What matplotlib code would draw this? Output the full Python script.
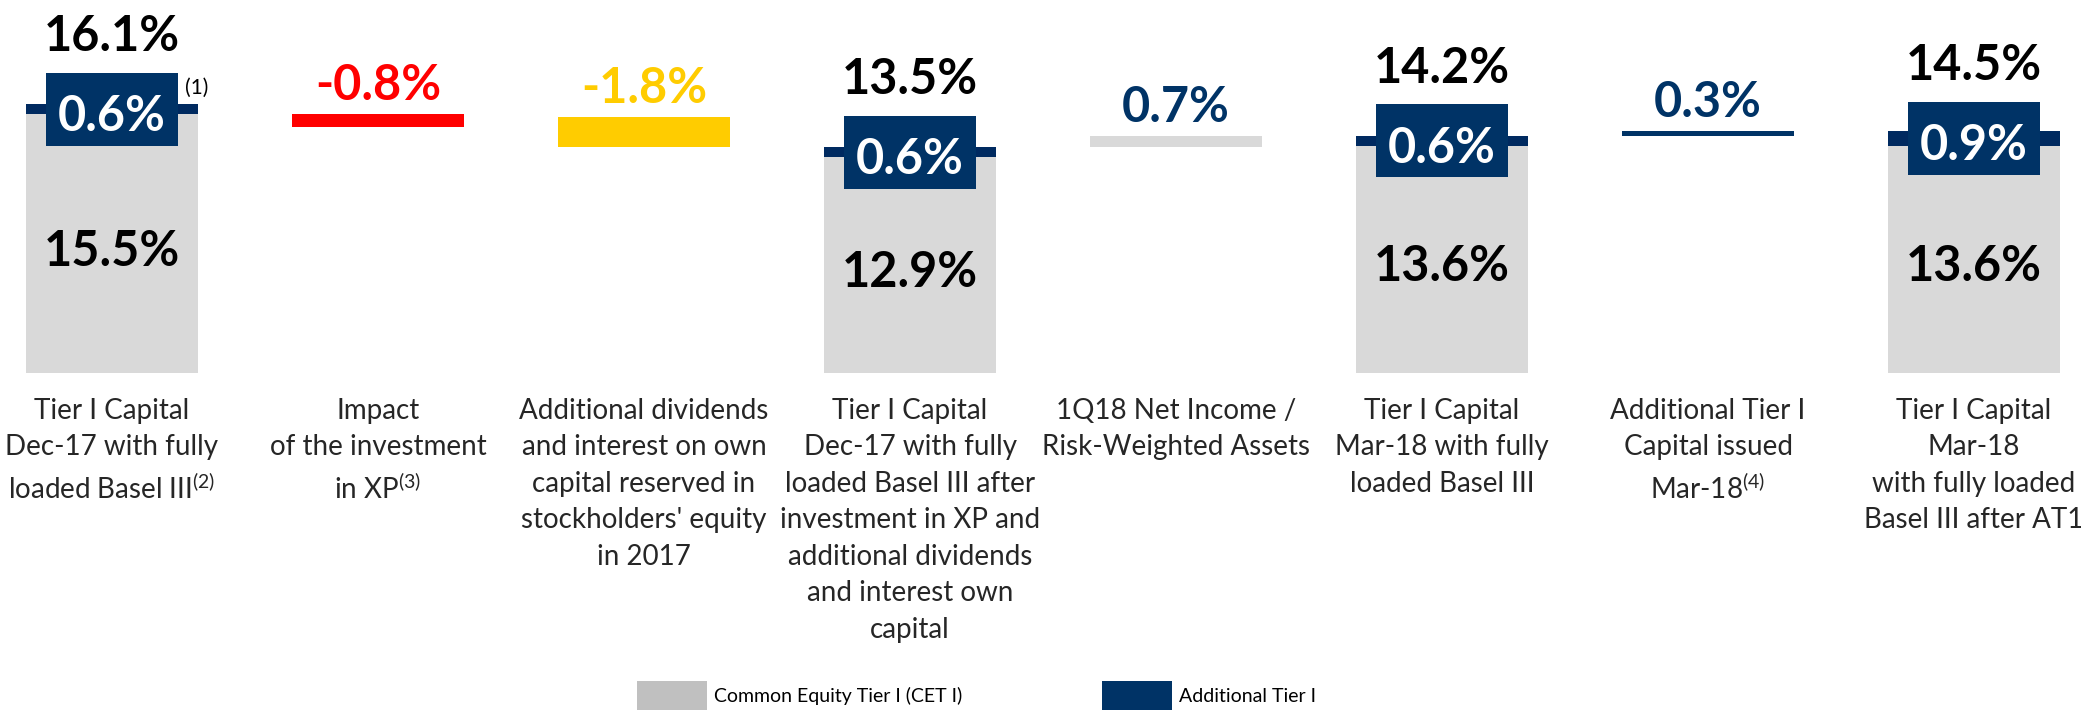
import numpy as np
import matplotlib.pyplot as plt
from matplotlib.patches import Rectangle, Patch

plt.rcParams['font.family'] = ['Lato', 'DejaVu Sans']
plt.rcParams['mathtext.default'] = 'regular'

# --- data ---
categories = [
    "Tier I Capital\nDec-17 with fully\nloaded Basel III$^{(2)}$",
    "Impact\nof the investment\nin XP$^{(3)}$",
    "Additional dividends\nand interest on own\ncapital reserved in\nstockholders' equity\nin 2017",
    "Tier I Capital\nDec-17 with fully\nloaded Basel III after\ninvestment in XP and\nadditional dividends\nand interest own\ncapital",
    "1Q18 Net Income /\nRisk-Weighted Assets",
    "Tier I Capital\nMar-18 with fully\nloaded Basel III",
    "Additional Tier I\nCapital issued\nMar-18$^{(4)}$",
    "Tier I Capital\nMar-18\nwith fully loaded\nBasel III after AT1",
]
stack_idx = [0, 3, 5, 7]
cet1 = [15.5, 12.9, 13.6, 13.6]
at1 = [0.6, 0.6, 0.6, 0.9]

step_idx = [1, 2, 4, 6]
step_val = [-0.8, -1.8, 0.7, 0.3]
step_low = [14.7, 13.5, 13.5, 14.2]   # lower edge of the floating bars as drawn

# --- styles ---
gray = '#D9D9D9'
navy = '#003366'
navy_cap = '#002A60'
step_colors = ['#FF0000', '#FFCC00', gray, navy]
label_colors = ['#FF0000', '#FFCC00', navy, navy]

fig = plt.figure(figsize=(20.81, 7.10), dpi=100)
ax = fig.add_axes([0, 0, 1, 1])
ax.set_xlim(-0.421, 7.402)
ax.set_ylim(-20.18, 22.33)
ax.axis('off')

w = 0.647
cet1 = np.array(cet1)
at1 = np.array(at1)
total = cet1 + at1

ax.bar(stack_idx, cet1, width=w, color=gray, linewidth=0)
ax.bar(stack_idx, at1, bottom=cet1, width=w, color=navy_cap, linewidth=0)
ax.bar(step_idx, np.abs(step_val), bottom=step_low, width=w, color=step_colors, linewidth=0)

big = dict(fontsize=35, fontweight='bold', ha='center', va='baseline')

# AT1 boxes and labels
bw, bh = 132 / 266.0, 73 / 16.7
for i, x in enumerate(stack_idx):
    yc = cet1[i] + at1[i] / 2
    ax.add_patch(Rectangle((x - bw / 2, yc - bh / 2), bw, bh, color=navy, zorder=3, linewidth=0))
    ax.annotate(f"{at1[i]:.1f}%", (x, yc), xytext=(0, -22), textcoords='offset pixels',
                color='white', zorder=4, **big)
    ax.annotate(f"{total[i]:.1f}%", (x, yc), xytext=(0, 58), textcoords='offset pixels',
                color='black', **big)
    ax.annotate(f"{cet1[i]:.1f}%", (x, cet1[i] / 2), xytext=(0, -22), textcoords='offset pixels',
                color='black', **big)

ax.annotate("(1)", (stack_idx[0] + bw / 2, cet1[0] + at1[0] / 2 + bh / 2), xytext=(7, -5),
            textcoords='offset pixels', ha='left', va='top', fontsize=15)

# floating bars labels
for i, x in enumerate(step_idx):
    top = step_low[i] + abs(step_val[i])
    ax.annotate(f"{step_val[i]:.1f}%", (x, top), xytext=(0, 14), textcoords='offset pixels',
                color=label_colors[i], **big)

# category labels
for i, lab in enumerate(categories):
    ax.annotate(lab, (i, 0), xytext=(0, -25), textcoords='offset pixels',
                ha='center', va='top', fontsize=20, linespacing=1.5, color='#262626')

handles = [Patch(facecolor='#C0C0C0', linewidth=0), Patch(facecolor=navy, linewidth=0)]
ax.legend(handles, ['Common Equity Tier I (CET I)', 'Additional Tier I'],
          loc='upper left', bbox_to_anchor=(637 / 2081, 1 - 681 / 710), frameon=False,
          ncol=2, fontsize=14, handlelength=3.6, handleheight=1.9, handletextpad=0.35,
          columnspacing=7.2, borderpad=0, borderaxespad=0)

fig.savefig('out.png', dpi=100)
